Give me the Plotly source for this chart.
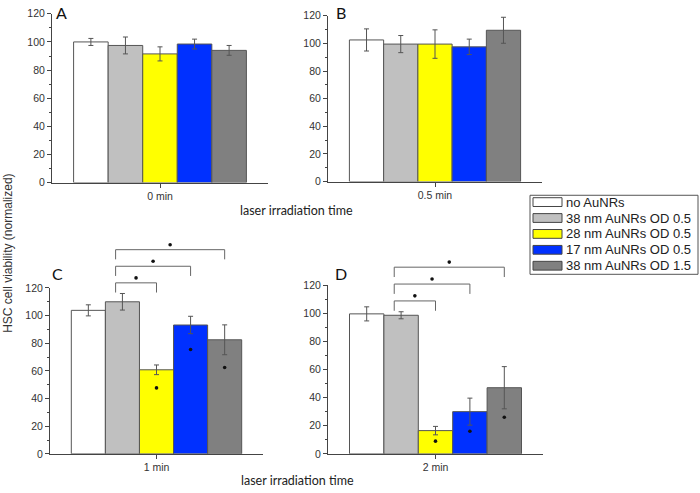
import plotly.graph_objects as go

# ---------------- data ----------------
SERIES = ["no AuNRs", "38 nm AuNRs OD 0.5", "28 nm AuNRs OD 0.5",
          "17 nm AuNRs OD 0.5", "38 nm AuNRs OD 1.5"]
COLORS = ["#FFFFFF", "#C0C0C0", "#FFFF00", "#0030FF", "#808080"]
PANELS = ["A", "B", "C", "D"]
TIMES = ["0 min", "0.5 min", "1 min", "2 min"]

viab_0min = [100.0, 97.5, 91.5, 98.5, 94.0]
err_0min = [2.5, 6.0, 5.0, 3.5, 3.5]
viab_05min = [102.5, 99.5, 99.5, 97.5, 109.5]
err_05min = [8.0, 6.2, 10.3, 5.6, 9.4]
viab_1min = [103.8, 110.0, 60.8, 93.2, 82.5]
err_1min = [4.0, 6.0, 3.5, 6.3, 10.8]
viab_2min = [99.5, 98.5, 16.5, 30.0, 47.0]
err_2min = [5.0, 2.5, 3.0, 9.6, 15.0]

# significance markers drawn inside the bars (None = no marker)
star_0min = [None] * 5
star_05min = [None] * 5
star_1min = [None, None, 47.7, 75.5, 62.5]
star_2min = [None, None, 9.0, 16.0, 26.0]

# significance brackets (series index pairs) per panel
sig_0min = []
sig_05min = []
sig_1min = [(1, 2), (1, 3), (1, 4)]
sig_2min = [(1, 2), (1, 3), (1, 4)]

Y_TICKS = [0, 20, 40, 60, 80, 100, 120]

VALUES = [viab_0min, viab_05min, viab_1min, viab_2min]
ERRORS = [err_0min, err_05min, err_1min, err_2min]
STARS = [star_0min, star_05min, star_1min, star_2min]
SIGS = [sig_0min, sig_05min, sig_1min, sig_2min]

# ---------------- layout geometry ----------------
W, H = 700, 493


def px(x):
    return x / W


def py(y):
    return 1 - y / H


# plot areas in pixels: (x0, x1, ytop, ybottom)
AREAS = [(52, 268, 8, 181), (328, 542, 10, 180),
         (50, 263, 289, 459), (328, 543, 286, 459)]

Y_MAX = Y_TICKS[-1]
BARGAP = 0.2
n = len(SERIES)
bw = (1 - BARGAP) / n
centers = [(i - (n - 1) / 2) * bw for i in range(n)]

AXC = "#444444"
TICKFONT = dict(family="Liberation Sans, Arial", size=10.5, color="#333333")
STAR_COLOR = "#111111"
STAR_PX = 3.6

fig = go.Figure()
shapes = []
annotations = []
layout_axes = {}

for k in range(4):
    xid = "x" if k == 0 else f"x{k+1}"
    yid = "y" if k == 0 else f"y{k+1}"
    x0, x1, yt, yb = AREAS[k]
    vals, errs, stars = VALUES[k], ERRORS[k], STARS[k]

    for i in range(n):
        fig.add_trace(go.Bar(
            x=[centers[i]], y=[vals[i]], width=[bw],
            name=SERIES[i], showlegend=False,
            marker=dict(color=COLORS[i], line=dict(color="#555555", width=1)),
            error_y=dict(type="data", array=[errs[i]], visible=True,
                         color="#555555", thickness=1, width=2.5),
            xaxis=xid, yaxis=yid,
        ))

    sx = [centers[i] for i in range(n) if stars[i] is not None]
    sy = [stars[i] for i in range(n) if stars[i] is not None]
    if sx:
        fig.add_trace(go.Scatter(
            x=sx, y=sy, mode="markers", showlegend=False,
            marker=dict(symbol="circle", size=STAR_PX, color=STAR_COLOR,
                        line=dict(width=0)),
            xaxis=xid, yaxis=yid, hoverinfo="skip",
        ))

    # brackets
    if SIGS[k]:
        ref = SIGS[k][0][0]
        base = vals[ref] + errs[ref] + 0.7
        for j, (a, b) in enumerate(SIGS[k]):
            ybot = base + 12 * j
            ytop = ybot + 7
            xa = centers[a] - 0.2 * bw
            xb = centers[b]
            for (lx0, ly0, lx1, ly1) in [(xa, ybot, xa, ytop), (xa, ytop, xb, ytop),
                                         (xb, ytop, xb, ybot)]:
                shapes.append(dict(type="line", xref=xid, yref=f"{yid} domain",
                                   x0=lx0, x1=lx1, y0=ly0 / Y_MAX, y1=ly1 / Y_MAX,
                                   line=dict(color="#666666", width=1)))
            shapes.append(dict(type="circle", xref=xid, yref=f"{yid} domain",
                               xsizemode="pixel", ysizemode="pixel",
                               xanchor=(xa + xb) / 2, yanchor=(ytop + 3.6) / Y_MAX,
                               x0=-STAR_PX / 2, x1=STAR_PX / 2,
                               y0=-STAR_PX / 2, y1=STAR_PX / 2,
                               fillcolor=STAR_COLOR, line=dict(width=0)))

    xkey = "xaxis" if k == 0 else f"xaxis{k+1}"
    ykey = "yaxis" if k == 0 else f"yaxis{k+1}"
    layout_axes[xkey] = dict(
        domain=[px(x0), px(x1)], anchor=yid, range=[-0.5, 0.5],
        tickmode="array", tickvals=[0], ticktext=[TIMES[k]],
        ticks="outside", ticklen=4, tickcolor=AXC, showline=True, linecolor=AXC,
        linewidth=1, showgrid=False, zeroline=False, tickfont=TICKFONT,
    )
    layout_axes[ykey] = dict(
        domain=[py(yb), py(yt)], anchor=xid, range=[0, Y_MAX],
        tickmode="array", tickvals=Y_TICKS,
        ticks="outside", ticklen=4, tickcolor=AXC, showline=True, linecolor=AXC,
        linewidth=1, showgrid=False, zeroline=False, tickfont=TICKFONT,
        minor=dict(dtick=10, tick0=0, ticks="outside", ticklen=2, tickcolor=AXC,
                   showgrid=False),
    )

# panel letters
LETTER_POS = [(62, 7), (341, 7), (58, 274), (341, 274)]
for k, (lx, ly) in enumerate(LETTER_POS):
    annotations.append(dict(text=PANELS[k], x=px(lx), y=py(ly), xref="paper",
                            yref="paper", showarrow=False, xanchor="center",
                            yanchor="middle",
                            font=dict(family="Lato", size=16, color="#111111")))

# x titles
for (tx, ty) in [(296, 210), (297, 486)]:
    annotations.append(dict(text="laser irradiation time", x=px(tx), y=py(ty),
                            xref="paper", yref="paper", showarrow=False,
                            xanchor="center", yanchor="middle",
                            font=dict(family="Lato", size=12.5, color="#222222")))

# y title
annotations.append(dict(text="HSC cell viability (normalized)", x=px(8), y=py(254),
                        xref="paper", yref="paper", showarrow=False, textangle=-90,
                        xanchor="center", yanchor="middle",
                        font=dict(family="Liberation Sans, Arial", size=12,
                                  color="#333333")))

# manual legend
LX0, LX1, LY0, LY1 = 530, 698, 194, 275
shapes.append(dict(type="rect", xref="paper", yref="paper", x0=px(LX0), x1=px(LX1),
                   y0=py(LY1), y1=py(LY0), line=dict(color="#555555", width=1),
                   fillcolor="rgba(0,0,0,0)"))
for i in range(n):
    cy = 201 + 16.3 * i
    shapes.append(dict(type="rect", xref="paper", yref="paper", x0=px(533),
                       x1=px(562), y0=py(cy + 4.5), y1=py(cy - 4.5),
                       fillcolor=COLORS[i], line=dict(color="#444444", width=1)))
    annotations.append(dict(text=SERIES[i], x=px(564), y=py(cy), xref="paper",
                            yref="paper", showarrow=False, xanchor="left",
                            yanchor="middle",
                            font=dict(family="Liberation Sans, Arial", size=13,
                                      color="#222222")))

fig.update_layout(
    width=W, height=H, margin=dict(l=0, r=0, t=0, b=0),
    paper_bgcolor="white", plot_bgcolor="white",
    barmode="overlay", showlegend=False, hovermode=False,
    shapes=shapes, annotations=annotations,
    **layout_axes,
)

fig.write_html("out.html", config={"displayModeBar": False},
               post_script="document.body.style.margin='0';"
                           "document.body.style.padding='0';")
